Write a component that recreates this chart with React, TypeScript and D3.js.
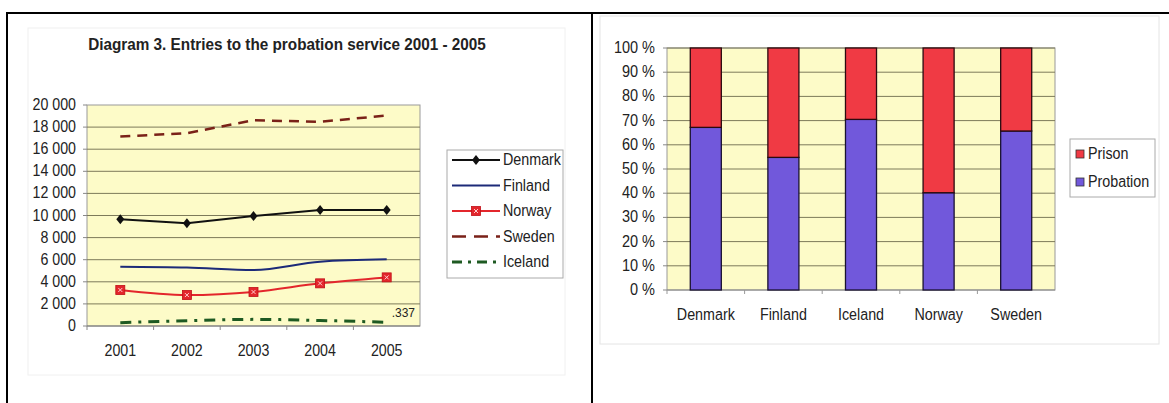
import React from "react";
import * as d3 from "d3";

const years = ["2001", "2002", "2003", "2004", "2005"];
const denmark = [9650, 9300, 9950, 10500, 10500];
const finland = [5370, 5300, 5070, 5820, 6030];
const norway = [3260, 2800, 3080, 3860, 4400];
const sweden = [17150, 17450, 18620, 18480, 19050];
const iceland = [300, 480, 600, 500, 337];
const yTicksLeft = [0, 2000, 4000, 6000, 8000, 10000, 12000, 14000, 16000, 18000, 20000];

const countries = ["Denmark", "Finland", "Iceland", "Norway", "Sweden"];
const probation = [67.2, 54.8, 70.5, 40.2, 65.7];
const prison = [32.8, 45.2, 29.5, 59.8, 34.3];
const pctTicks = [0, 10, 20, 30, 40, 50, 60, 70, 80, 90, 100];

const FONT = "Liberation Sans, Arial, sans-serif";
const BG = "#fdfbc8";
const GRID = "#7d7a5a";

type Series = { name: string; values: number[]; color: string; dash?: string; marker?: "diamond" | "square"; curve: any; width: number };

const series: Series[] = [
  { name: "Denmark", values: denmark, color: "#111111", marker: "diamond", curve: d3.curveLinear, width: 2 },
  { name: "Finland", values: finland, color: "#1c2a78", curve: d3.curveMonotoneX, width: 2 },
  { name: "Norway", values: norway, color: "#e3262c", marker: "square", curve: d3.curveMonotoneX, width: 2 },
  { name: "Sweden", values: sweden, color: "#7a2118", dash: "10,7", curve: d3.curveLinear, width: 2.5 },
  { name: "Iceland", values: iceland, color: "#1e5a22", dash: "11,7,3,7", curve: d3.curveMonotoneX, width: 3 },
];

function T({ x, y, children, anchor = "start", size = 14, bold = false }: any) {
  return (
    <text
      transform={`translate(${x},${y}) scale(1,1.13)`}
      textAnchor={anchor}
      fontFamily={FONT}
      fontWeight={bold ? "bold" : "normal"}
      fontSize={size}
      fill="#222"
    >
      {children}
    </text>
  );
}

function Marker({ kind, x, y, color }: { kind?: string; x: number; y: number; color: string }) {
  if (kind === "diamond") {
    return <path d={`M${x},${y - 5}L${x + 4},${y}L${x},${y + 5}L${x - 4},${y}Z`} fill={color} />;
  }
  if (kind === "square") {
    return (
      <g>
        <rect x={x - 4.5} y={y - 4.5} width={9} height={9} fill={color} stroke="#c01018" strokeWidth={0.8} />
        <path d={`M${x - 2},${y - 2}L${x + 2},${y + 2}M${x + 2},${y - 2}L${x - 2},${y + 2}`} stroke="#fcc" strokeWidth={1} />
      </g>
    );
  }
  return null;
}

function LeftChart() {
  const x0 = 87, x1 = 420, yTop = 105, yBot = 326;
  const x = d3.scaleBand<string>().domain(years).range([x0, x1]);
  const y = d3.scaleLinear().domain([0, 20000]).range([yBot, yTop]);
  const cx = (d: string) => (x(d) as number) + x.bandwidth() / 2;
  const fmt = (v: number) => (v >= 1000 ? `${Math.floor(v / 1000)} ${String(v % 1000).padStart(3, "0")}` : `${v}`);
  return (
    <g>
      <rect x={28} y={28} width={537} height={347} fill="#fff" stroke="#f0f0f0" />
      <T x={287} y={50} anchor="middle" size={15.3} bold>
        Diagram 3. Entries to the probation service 2001 - 2005
      </T>
      <rect x={x0} y={yTop} width={x1 - x0} height={yBot - yTop} fill={BG} stroke="#999" strokeWidth={1} />
      {yTicksLeft.map((t) => (
        <g key={t}>
          {t > 0 && t < 20000 && <line x1={x0} x2={x1} y1={y(t)} y2={y(t)} stroke={GRID} strokeWidth={1} />}
          <line x1={x0 - 4} x2={x0} y1={y(t)} y2={y(t)} stroke="#888" />
          <T x={x0 - 11} y={y(t) + 5} anchor="end" size={14.2}>
            {fmt(t)}
          </T>
        </g>
      ))}
      <line x1={x0} x2={x1} y1={yBot} y2={yBot} stroke="#777" strokeWidth={1.2} />
      {years.map((yr) => (
        <g key={yr}>
          <line x1={x(yr) as number} x2={x(yr) as number} y1={yBot} y2={yBot + 4} stroke="#888" />
          <T x={cx(yr)} y={356} anchor="middle" size={14.2}>
            {yr}
          </T>
        </g>
      ))}
      {series.map((s) => {
        const line = d3
          .line<number>()
          .x((_, i) => cx(years[i]))
          .y((v) => y(v))
          .curve(s.curve);
        return (
          <g key={s.name}>
            <path d={line(s.values) || ""} fill="none" stroke={s.color} strokeWidth={s.width} strokeDasharray={s.dash} />
            {s.values.map((v, i) => (
              <Marker key={i} kind={s.marker} x={cx(years[i])} y={y(v)} color={s.color} />
            ))}
          </g>
        );
      })}
      <T x={cx("2005") + 5} y={y(iceland[4]) - 5} size={12}>
        .337
      </T>
      <rect x={447} y={150} width={116} height={128} fill="#fff" stroke="#aaa" />
      {series.map((s, i) => {
        const ly = 160 + i * 25.5;
        return (
          <g key={s.name}>
            <line x1={452} x2={500} y1={ly} y2={ly} stroke={s.color} strokeWidth={s.width} strokeDasharray={s.dash ? (s.name === "Sweden" ? "14,8" : "10,6,3,6") : undefined} />
            <Marker kind={s.marker} x={476} y={ly} color={s.color} />
            <T x={503} y={ly + 5} size={14.3}>
              {s.name}
            </T>
          </g>
        );
      })}
    </g>
  );
}

function RightChart() {
  const x0 = 667, x1 = 1055, yTop = 48, yBot = 290;
  const x = d3.scaleBand<string>().domain(countries).range([x0, x1]).paddingInner(0.6).paddingOuter(0.3);
  const y = d3.scaleLinear().domain([0, 100]).range([yBot, yTop]);
  const xb = d3.scaleBand<string>().domain(countries).range([x0, x1]);
  return (
    <g>
      <rect x={600} y={16} width={559} height={328} fill="#fff" stroke="#e4e4e4" />
      <rect x={x0} y={yTop} width={x1 - x0} height={yBot - yTop} fill={BG} stroke="#999" />
      {pctTicks.map((t) => (
        <g key={t}>
          {t > 0 && <line x1={x0} x2={x1} y1={y(t)} y2={y(t)} stroke={GRID} strokeWidth={1} />}
          <line x1={x0 - 4} x2={x0} y1={y(t)} y2={y(t)} stroke="#888" />
          <T x={655} y={y(t) + 5} anchor="end" size={14.5}>
            {`${t} %`}
          </T>
        </g>
      ))}
      <line x1={x0} x2={x1} y1={yBot} y2={yBot} stroke="#888" strokeWidth={1.2} />
      {countries.map((c, i) => {
        const bw = x.bandwidth();
        const center = (xb(c) as number) + xb.bandwidth() / 2;
        return (
          <g key={c}>
            <line x1={xb(c) as number} x2={xb(c) as number} y1={yBot} y2={yBot + 4} stroke="#999" />
            <rect x={center - bw / 2} y={y(probation[i])} width={bw} height={yBot - y(probation[i])} fill="#7158db" stroke="#1a1230" strokeWidth={1.3} />
            <rect x={center - bw / 2} y={y(probation[i] + prison[i])} width={bw} height={y(probation[i]) - y(probation[i] + prison[i])} fill="#f03a44" stroke="#2a0a10" strokeWidth={1.3} />
            <T x={center} y={320} anchor="middle" size={14.3}>
              {c}
            </T>
          </g>
        );
      })}
      <rect x={1070} y={139} width={85} height={58} fill="#fff" stroke="#aaa" />
      <rect x={1076} y={150} width={8} height={8} fill="#f03a44" stroke="#333" strokeWidth={0.8} />
      <T x={1088} y={159} size={14.3}>Prison</T>
      <rect x={1076} y={178} width={8} height={8} fill="#7158db" stroke="#333" strokeWidth={0.8} />
      <T x={1088} y={187} size={14.3}>Probation</T>
    </g>
  );
}

export default function App() {
  return (
    <svg width={1169} height={403} style={{ position: "absolute", left: 0, top: 0, background: "#fff" }}>
      <rect x={0} y={0} width={1169} height={403} fill="#fff" />
      <LeftChart />
      <RightChart />
      <line x1={6} x2={1169} y1={13} y2={13} stroke="#000" strokeWidth={2} />
      <line x1={7} x2={7} y1={12} y2={403} stroke="#000" strokeWidth={2} />
      <line x1={592} x2={592} y1={12} y2={403} stroke="#000" strokeWidth={2} />
    </svg>
  );
}
